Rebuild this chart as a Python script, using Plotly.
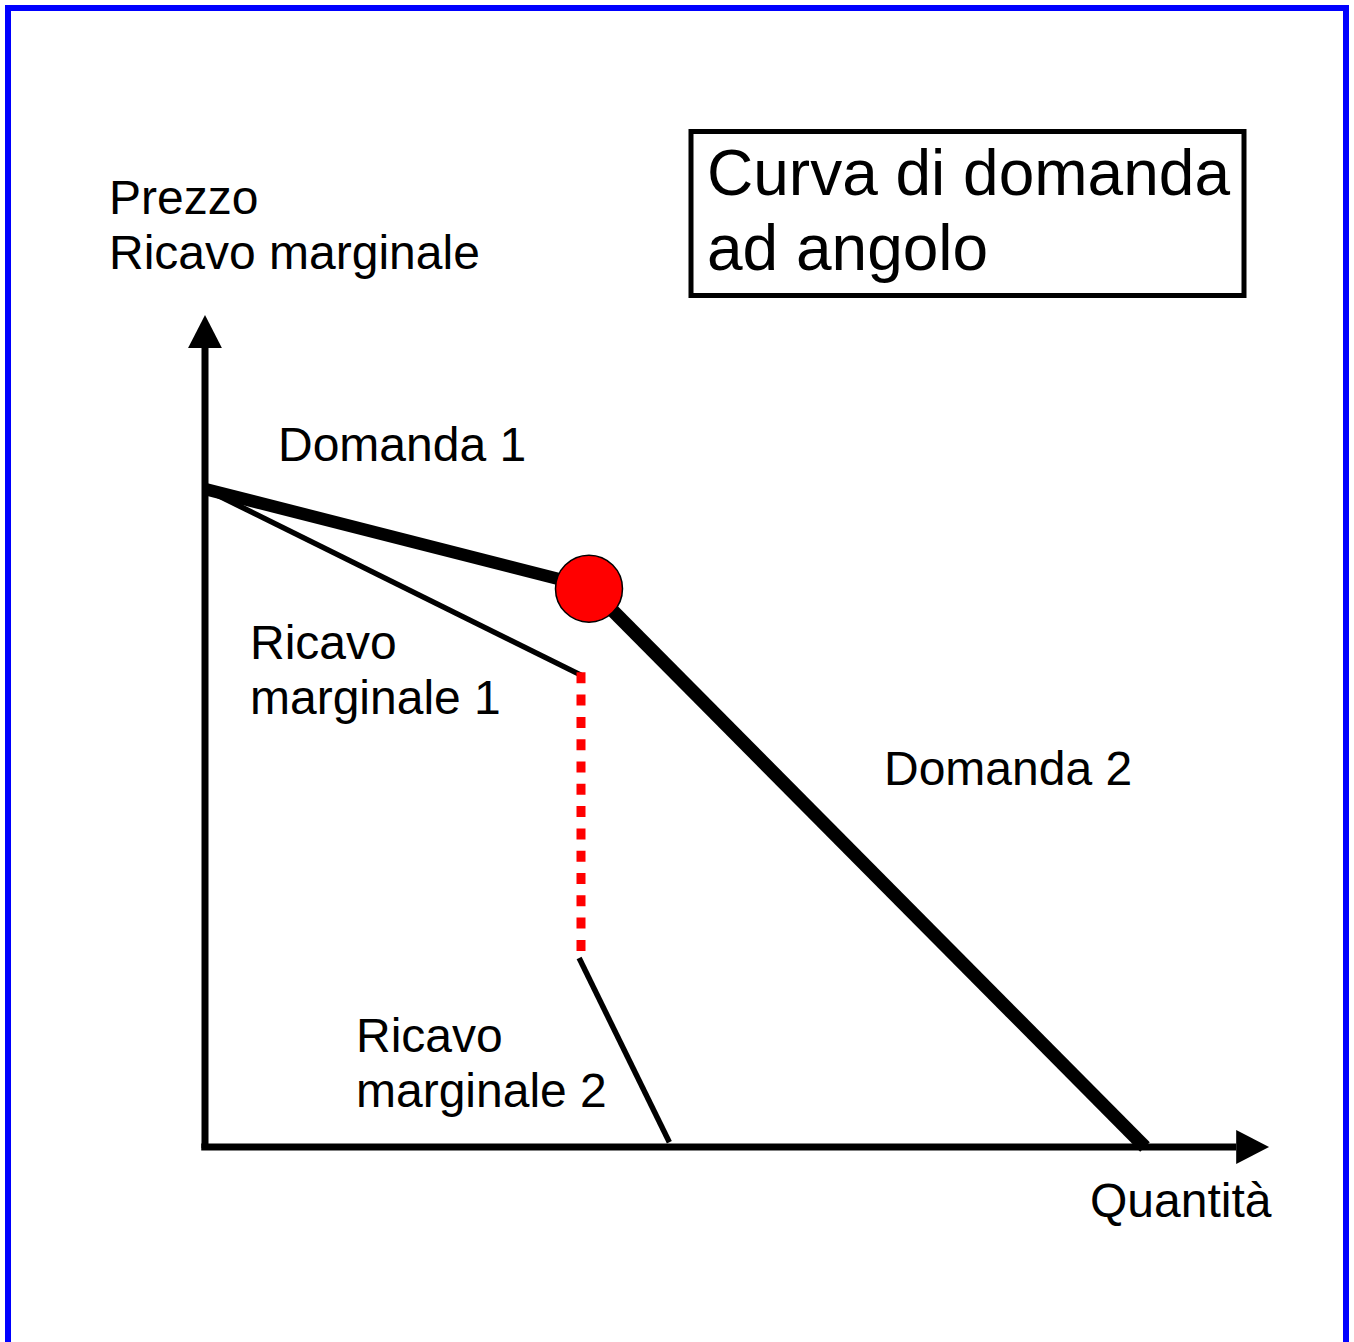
import plotly.graph_objects as go

W, H = 1354, 1342
# scala del disegno: pixel per unità e origine degli assi (pixel)
K = 9.4
OX, OY = 205, 1147

# curva di domanda ad angolo (quantità, prezzo)
domanda1_q = [0.0, 40.85]
domanda1_p = [70.0, 59.6]
domanda2_q = [40.85, 100.0]
domanda2_p = [59.6, 0.0]
ricavo1_q = [0.0, 40.0]
ricavo1_p = [70.0, 50.2]
salto_q = [40.0, 40.0]
salto_p = [50.5, 20.7]
ricavo2_q = [39.8, 49.4]
ricavo2_p = [20.1, 0.5]
angolo_q = [40.85]
angolo_p = [59.4]

# assi con frecce
asse_q_fine = 109.7   # base della freccia orizzontale
asse_q_punta = 113.2
asse_p_fine = 85.0    # base della freccia verticale
asse_p_punta = 88.5
freccia_mezza = 1.8

FONT = "Liberation Sans, Arial, sans-serif"

fig = go.Figure()

# asse verticale e orizzontale
fig.add_trace(go.Scatter(x=[0, 0], y=[-0.1, asse_p_fine], mode="lines",
                         line=dict(color="black", width=7)))
fig.add_trace(go.Scatter(x=[-0.4, asse_q_fine], y=[0, 0], mode="lines",
                         line=dict(color="black", width=7)))
fig.add_trace(go.Scatter(x=[-freccia_mezza, freccia_mezza, 0, -freccia_mezza],
                         y=[asse_p_fine, asse_p_fine, asse_p_punta, asse_p_fine],
                         mode="lines", fill="toself", fillcolor="black",
                         line=dict(color="black", width=0)))
fig.add_trace(go.Scatter(x=[asse_q_fine, asse_q_fine, asse_q_punta, asse_q_fine],
                         y=[-freccia_mezza, freccia_mezza, 0, -freccia_mezza],
                         mode="lines", fill="toself", fillcolor="black",
                         line=dict(color="black", width=0)))

# ricavi marginali
fig.add_trace(go.Scatter(x=ricavo1_q, y=ricavo1_p, mode="lines",
                         line=dict(color="black", width=5.5)))
fig.add_trace(go.Scatter(x=ricavo2_q, y=ricavo2_p, mode="lines",
                         line=dict(color="black", width=5.5)))
fig.add_trace(go.Scatter(x=salto_q, y=salto_p, mode="lines",
                         line=dict(color="red", width=9, dash="11px,11.3px")))

# domanda 1 e 2
fig.add_trace(go.Scatter(x=domanda1_q, y=domanda1_p, mode="lines",
                         line=dict(color="black", width=12.5)))
fig.add_trace(go.Scatter(x=domanda2_q, y=domanda2_p, mode="lines",
                         line=dict(color="black", width=13.5)))

# punto di angolo
fig.add_trace(go.Scatter(x=angolo_q, y=angolo_p, mode="markers",
                         marker=dict(color="red", size=67,
                                     line=dict(color="black", width=1.5))))


def px(x):
    return x / W


def py(y):
    return 1 - y / H


# etichette: testo, x sinistra, linea di base (pixel), dimensione
etichette = [
    ("Prezzo", 111, 214, 48),
    ("Ricavo marginale", 111, 269, 48),
    ("Domanda 1", 280, 461, 48),
    ("Ricavo", 252, 659, 48),
    ("marginale 1", 252, 714, 48),
    ("Domanda 2", 886, 785, 48),
    ("Ricavo", 358, 1052, 48),
    ("marginale 2", 358, 1107, 48),
    ("Quantità", 1092, 1217, 48),
    ("Curva di domanda", 710, 195, 64),
    ("ad angolo", 710, 270, 64),
]
for testo, x, base, size in etichette:
    fig.add_annotation(text=testo, xref="paper", yref="paper",
                       x=px(x - 0.07 * size - 1), y=py(base - 0.3465 * size),
                       xanchor="left", yanchor="middle", showarrow=False,
                       font=dict(family=FONT, size=size, color="black"))

# riquadro del titolo e cornice blu
fig.add_shape(type="rect", xref="paper", yref="paper",
              x0=px(691), x1=px(1244), y0=py(295.5), y1=py(131.5),
              line=dict(color="black", width=5))
fig.add_shape(type="rect", xref="paper", yref="paper",
              x0=px(8), x1=px(1346), y0=py(1352), y1=py(8),
              line=dict(color="#0000ff", width=6))

fig.update_xaxes(range=[-OX / K, (W - OX) / K], visible=False, fixedrange=True)
fig.update_yaxes(range=[-(H - OY) / K, OY / K], visible=False, fixedrange=True)
fig.update_layout(width=W, height=H, autosize=False, showlegend=False,
                  margin=dict(l=0, r=0, t=0, b=0),
                  plot_bgcolor="white", paper_bgcolor="white")

# niente margine della pagina, così il disegno parte dall'angolo
fig.write_html("out.html", config={"displayModeBar": False},
               post_script="document.body.style.margin='0';"
                           "document.body.style.overflow='hidden';")
